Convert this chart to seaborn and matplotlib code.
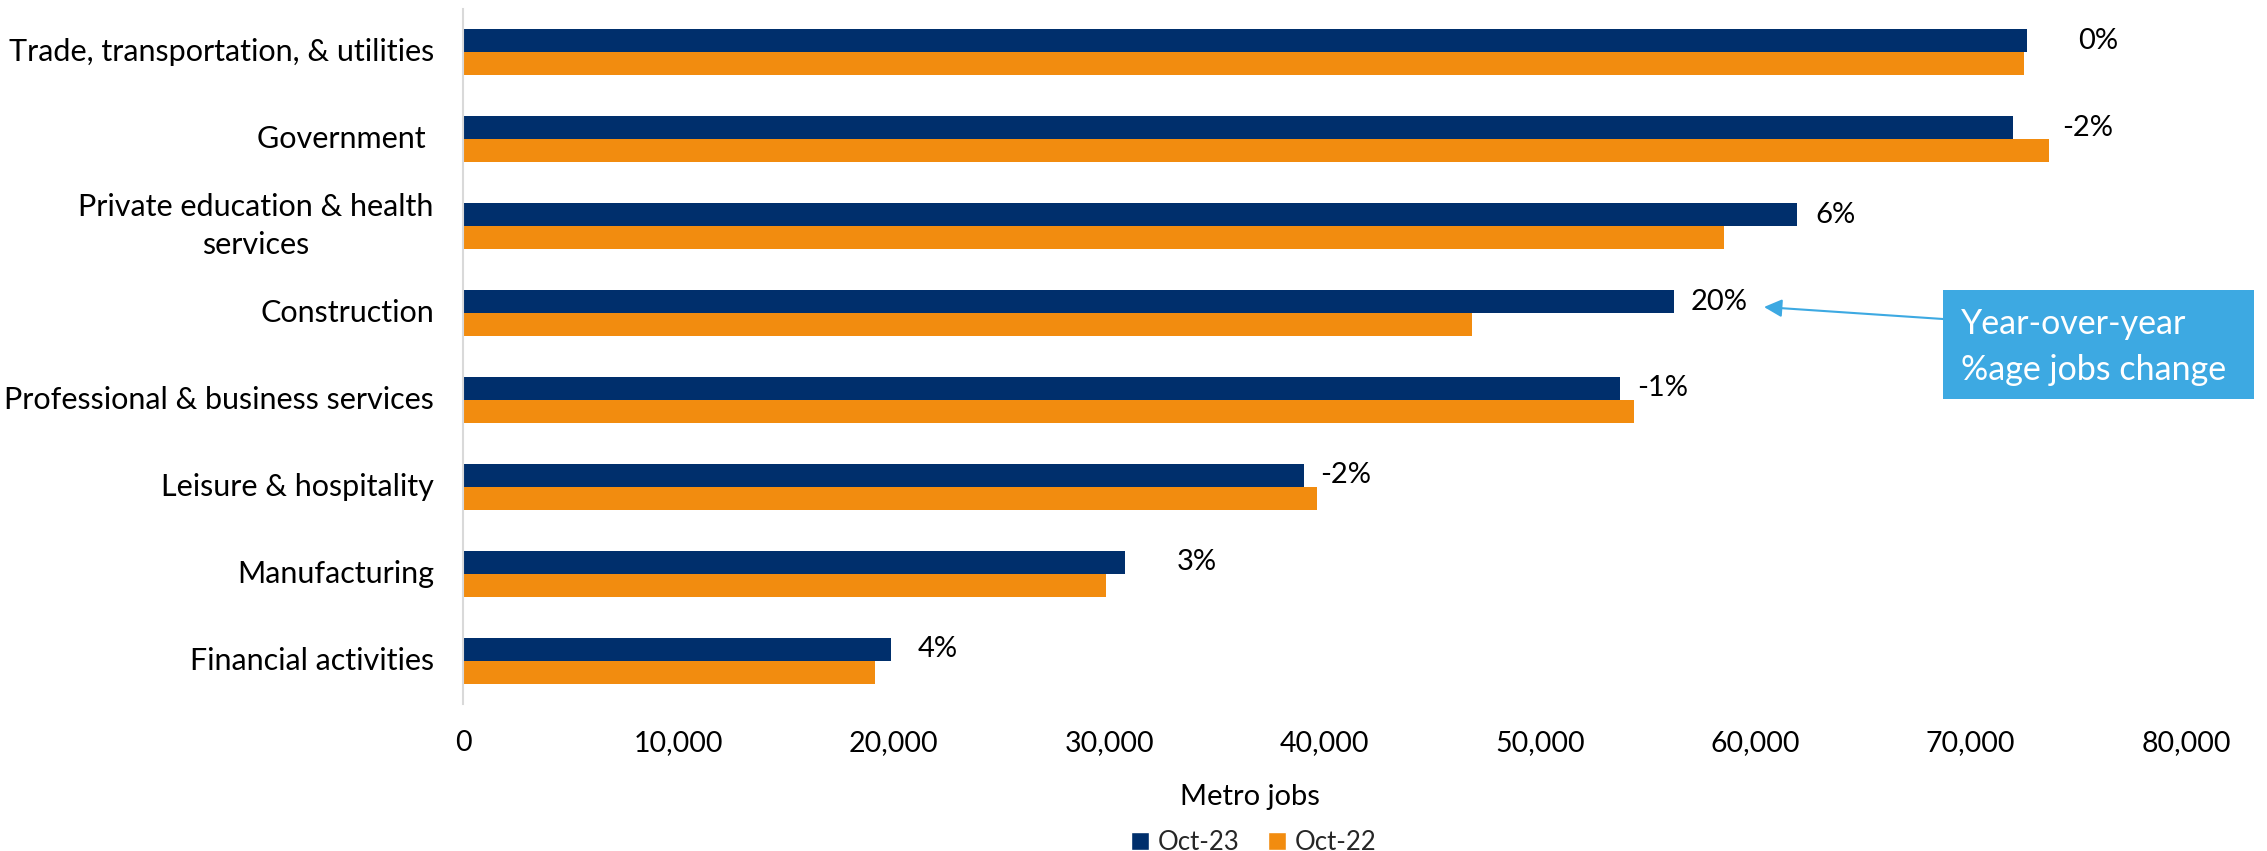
import matplotlib
matplotlib.use("Agg")
import matplotlib.pyplot as plt
from matplotlib.patches import Patch, Rectangle
from matplotlib.ticker import FuncFormatter
import seaborn as sns
import pandas as pd

# ---- data ----
categories = [
    "Trade, transportation, & utilities",
    "Government ",
    "Private education & health\nservices",
    "Construction",
    "Professional & business services",
    "Leisure & hospitality",
    "Manufacturing",
    "Financial activities",
]
oct23 = [72620, 71970, 61930, 56230, 53740, 39030, 30740, 19890]
oct22 = [72480, 73640, 58560, 46840, 54350, 39650, 29850, 19150]
pct_labels = ["0%", "-2%", "6%", "20%", "-1%", "-2%", "3%", "4%"]
series_names = ["Oct-23", "Oct-22"]
x_ticks = [0, 10000, 20000, 30000, 40000, 50000, 60000, 70000, 80000]

# label offsets (pixels) from the end of the Oct-23 bar
label_offset_px = [51, 49, 19, 17, 17, 17, 52, 26]

NAVY = "#002F6C"
ORANGE = "#F28C0F"
CALLOUT = "#3DA9E2"

df = pd.DataFrame({
    "category": categories * 2,
    "series": [series_names[0]] * len(categories) + [series_names[1]] * len(categories),
    "value": oct23 + oct22,
})

sns.set_theme(style="white")
plt.rcParams["font.family"] = ["Lato", "DejaVu Sans"]

W, H = 2267, 851
DPI = 100
fig = plt.figure(figsize=(W / DPI, H / DPI), dpi=DPI)
ax = fig.add_axes([463 / W, 1 - 704 / H, (2186 - 463) / W, (704 - 9) / H])

sns.barplot(data=df, y="category", x="value", hue="series", orient="h",
            palette=[NAVY, ORANGE], width=0.53, gap=0, ax=ax, legend=False,
            saturation=1, linewidth=0)

ax.set_xlim(0, 80000)
ax.set_ylim(7.5, -0.5)
ax.set_xticks(x_ticks)
ax.xaxis.set_major_formatter(FuncFormatter(lambda v, p: f"{int(v):,}"))
ax.set_xlabel("")
ax.set_ylabel("")
for s in ["top", "right", "bottom"]:
    ax.spines[s].set_visible(False)
ax.spines["left"].set_color("#D9D9D9")
ax.spines["left"].set_linewidth(1.5)
ax.tick_params(axis="both", length=0, colors="black")
ax.tick_params(axis="y", pad=21, labelsize=22)
ax.tick_params(axis="x", pad=19, labelsize=20.5)
for t in ax.get_yticklabels():
    t.set_multialignment("center")
    t.set_linespacing(1.45)
    t.set_verticalalignment("center")
ax.grid(False)

# percent-change labels next to Oct-23 bars
for i, (v, lab, off) in enumerate(zip(oct23, pct_labels, label_offset_px)):
    ax.annotate(lab, xy=(v, i - 0.53 / 4), xytext=(off * 72 / DPI, 0),
                textcoords="offset points", ha="left", va="center",
                fontsize=21, color="black")

# x-axis title and legend
fig.text(1250 / W, 1 - 797 / H, "Metro jobs", ha="center", va="center",
         fontsize=21, color="black")
handles = [Patch(facecolor=NAVY, label=series_names[0]),
           Patch(facecolor=ORANGE, label=series_names[1])]
fig.legend(handles=handles, loc="center", bbox_to_anchor=(1254 / W, 1 - 842 / H),
           ncol=2, frameon=False, fontsize=18.5, handlelength=0.7, handleheight=0.7,
           handletextpad=0.35, columnspacing=1.1, borderaxespad=0)

# callout box + arrow
box_l, box_r, box_t, box_b = 1943, 2254, 290, 399
fig.patches.append(Rectangle((box_l / W, 1 - box_b / H), (box_r - box_l) / W,
                             (box_b - box_t) / H, transform=fig.transFigure,
                             facecolor=CALLOUT, edgecolor="none", zorder=3))
fig.text(1961 / W, 1 - 347 / H, "Year-over-year\n%age jobs change",
         ha="left", va="center", fontsize=24.5, color="white", linespacing=1.5,
         zorder=4)
ax.annotate("", xy=(1764 / W, 1 - 307 / H), xycoords="figure fraction",
            xytext=(box_l / W, 1 - 319 / H), textcoords="figure fraction",
            arrowprops=dict(arrowstyle="-|>,head_length=0.9,head_width=0.45",
                            color=CALLOUT, lw=1.5, shrinkA=0, shrinkB=0),
            annotation_clip=False)

fig.savefig("out.png", dpi=DPI, facecolor="white")
